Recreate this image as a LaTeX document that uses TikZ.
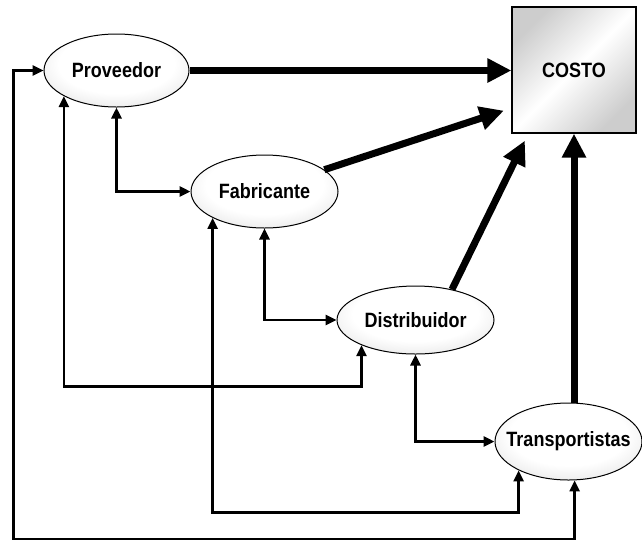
\documentclass[tikz,border=0pt]{standalone}
\usepackage{fontspec}
\setmainfont{Liberation Sans}
\usepackage{xcolor}
\usepackage{tikz}
\usetikzlibrary{calc,shapes.geometric,arrows.meta}
\definecolor{ink}{HTML}{000000}
\definecolor{shade}{HTML}{C4C4C4}
\definecolor{light}{HTML}{FFFFFF}
\pgfdeclareradialshading{ovalGlow}{\pgfpoint{0bp}{6bp}}{%
  color(0bp)=(light); color(20bp)=(light); color(50bp)=(shade); color(72bp)=(shade)}
\newcommand{\ovaltxt}[1]{\makebox[0pt]{\scalebox{1}[1.15]{#1}}}
\tikzset{
  ovalNode/.style={ellipse, draw=ink, line width=1pt, inner sep=0pt,
    shading=ovalGlow, font=\bfseries\fontsize{18}{21}\selectfont},
  costBox/.style={rectangle, draw=ink, line width=1.3pt, inner sep=0pt,
    minimum width=124pt, minimum height=126pt,
    left color=shade!85, right color=shade!85, middle color=light, shading angle=45,
    font=\bfseries\fontsize{18}{21}\selectfont},
  link/.style={draw=ink, line width=2.5pt, {Triangle[length=11pt,width=10pt]}-{Triangle[length=11pt,width=10pt]}},
  linkBold/.style={link, line width=3.2pt},
  heavyLink/.style={draw=ink, line width=7pt, -{Triangle[length=24pt,width=23pt]}}
}

\begin{document}
\begin{tikzpicture}[x=1pt,y=-1pt]
  \useasboundingbox (0,0) rectangle (642,542);

  \node[costBox] (costo) at (574,70) {\ovaltxt{COSTO}};
  \node[ovalNode, minimum width=145pt, minimum height=73pt] (prov) at (116.5,70.5) {\ovaltxt{Proveedor}};
  \node[ovalNode, minimum width=147pt, minimum height=73pt] (fab) at (264.5,191.5) {\ovaltxt{Fabricante}};
  \node[ovalNode, minimum width=157pt, minimum height=68pt] (dist) at (415.5,320) {\ovaltxt{Distribuidor}};
  \node[ovalNode, minimum width=147pt, minimum height=77pt] (trans) at (568.5,441.5) {\ovaltxt{Transportistas}};

  \coordinate (loopA) at (0,386.5);
  \coordinate (loopB) at (0,512.5);
  \coordinate (loopC) at (13.5,539);

  % heavy arrows into COSTO
  \draw[heavyLink] (prov.east) -- (prov.east -| costo.west);
  \draw[heavyLink] (fab.20) -- ([shift={(-7.5,-23)}]costo.south west);
  \draw[heavyLink] (dist.40) -- ([shift={(13.5,7)}]costo.south west);
  \draw[heavyLink] (costo.south |- trans.north) -- (costo.south);

  % links between the actors
  \draw[linkBold] (prov.south) |- (fab.west);
  \draw[link] (fab.south) |- (dist.west);
  \draw[linkBold] (dist.south) |- (trans.west);
  \draw[link] (prov.206) -- (prov.206 |- loopA) -| (dist.205);
  \draw[link] (fab.207) -- (fab.207 |- loopB) -| (trans.210);
  \draw[link] (prov.west) -| (loopC) -| (trans.279);
\end{tikzpicture}
\end{document}
